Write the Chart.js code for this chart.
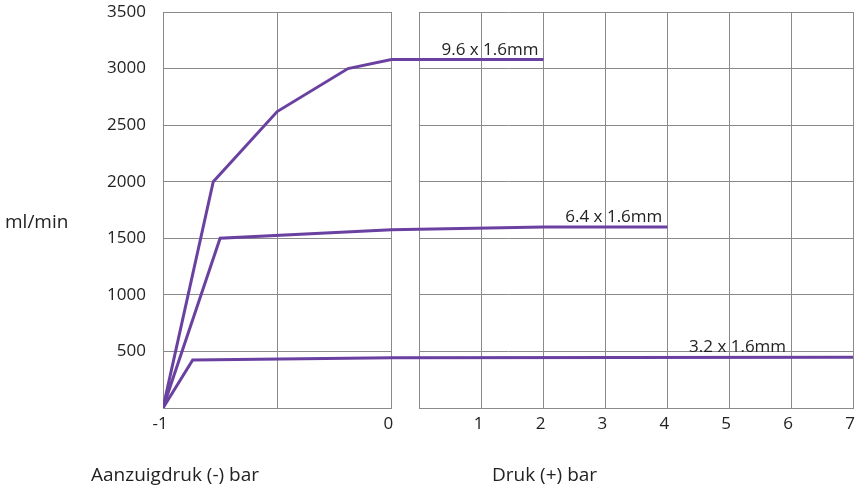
<!DOCTYPE html>
<html>
<head>
<meta charset="utf-8">
<title>Debiet per slangmaat</title>
<style>
  html, body { margin: 0; padding: 0; background: #fff; }
  #wrap { position: relative; width: 860px; height: 486px; }
</style>
</head>
<body>
<div id="wrap"><canvas id="flowChart" width="860" height="486"></canvas></div>
<script src="https://cdn.jsdelivr.net/npm/chart.js@4.4.1/dist/chart.umd.min.js"></script>
<script>
// Data (gelezen uit de grafiek)
const seriesNames = ['9.6 x 1.6mm', '6.4 x 1.6mm', '3.2 x 1.6mm'];

const pressure96 = [-1, -0.78, -0.5, -0.19, 0, 2];
const flow96 = [0, 2000, 2620, 3000, 3080, 3080];

const pressure64 = [-1, -0.75, 0, 2, 4];
const flow64 = [0, 1500, 1575, 1600, 1600];

const pressure32 = [-1, -0.87, 0, 7];
const flow32 = [0, 425, 445, 448];

// waar het label van elke lijn eindigt (bar)
const labelAt = [2, 4, 6];

const xGridValues = [-1, -0.5, 0, 0, 1, 2, 3, 4, 5, 6, 7];
const xLabelled = [-1, 0, 1, 2, 3, 4, 5, 6, 7];
const yTickValues = [0, 500, 1000, 1500, 2000, 2500, 3000, 3500];

const axisTitleY = 'ml/min';
const axisTitleSuction = 'Aanzuigdruk (-) bar';
const axisTitlePressure = 'Druk (+) bar';

// Opmaak
const purple = '#6a41a1';
const gridColor = '#8a8a8a';
const textColor = '#222';
const fontFamily = '"Open Sans", "Noto Sans", sans-serif';

// Gebroken x-as: links -1..0 (vacuum), rechts 0..7 (druk), met een smalle strook ertussen
const LEFT_PART = 0.331;
const GAP_PART = 0.041;

class BrokenScale extends Chart.LinearScale {
    buildTicks() {
        let seenZero = false;
        return xGridValues.map(function(v) {
            const t = { value: v, gapEnd: false };
            if (v === 0) {
                if (seenZero) t.gapEnd = true;
                seenZero = true;
            }
            t.showLabel = !t.gapEnd && xLabelled.indexOf(v) !== -1;
            return t;
        });
    }
    gapEndPixel() {
        return this.left + this.width * (LEFT_PART + GAP_PART);
    }
    getPixelForValue(value) {
        const w = this.width;
        if (value <= 0) {
            return this.left + (value - this.min) / (0 - this.min) * w * LEFT_PART;
        }
        return this.gapEndPixel() + value / this.max * w * (1 - LEFT_PART - GAP_PART);
    }
    getPixelForTick(index) {
        const t = this.ticks[index];
        if (t && t.gapEnd) return this.gapEndPixel();
        return this.getPixelForValue(t ? t.value : 0);
    }
    getValueForPixel(pixel) {
        const w = this.width;
        const leftEnd = this.left + w * LEFT_PART;
        if (pixel <= leftEnd) {
            return this.min + (pixel - this.left) / (w * LEFT_PART) * (0 - this.min);
        }
        const start = this.gapEndPixel();
        return Math.max(0, (pixel - start) / (w * (1 - LEFT_PART - GAP_PART)) * this.max);
    }
}
BrokenScale.id = 'broken';
BrokenScale.defaults = {};
Chart.register(BrokenScale);

function toPoints(xs, ys) {
    return xs.map(function(x, i) { return { x: x, y: ys[i] }; });
}

function alignPx(p) {
    return Math.round(p - 0.5);
}

// geen extra ruimte voor de buitenste labels, de layout-padding bepaalt alles
function noScalePadding(scale) {
    scale.paddingTop = 0;
    scale.paddingBottom = 0;
    scale.paddingLeft = 0;
    scale.paddingRight = 0;
}

// wit vlak in de onderbreking van de x-as
const gapPlugin = {
    id: 'axisGap',
    beforeDatasetsDraw(chart) {
        const xs = chart.scales.x;
        const area = chart.chartArea;
        const ctx = chart.ctx;
        const from = alignPx(xs.getPixelForValue(0)) + 1;
        const to = alignPx(xs.gapEndPixel());
        ctx.save();
        ctx.fillStyle = '#fff';
        ctx.fillRect(from, area.top - 2, to - from, area.bottom - area.top + 4);
        ctx.restore();
    }
};

// lijnlabels en astitels
const textPlugin = {
    id: 'chartTexts',
    afterDraw(chart) {
        const ctx = chart.ctx;
        const xs = chart.scales.x;
        const ys = chart.scales.y;
        ctx.save();
        ctx.fillStyle = textColor;
        ctx.font = '17px ' + fontFamily;
        ctx.textAlign = 'right';
        ctx.textBaseline = 'alphabetic';
        chart.data.datasets.forEach(function(ds, i) {
            const last = ds.data[ds.data.length - 1];
            ctx.fillText(seriesNames[i], xs.getPixelForValue(labelAt[i]) - 5, ys.getPixelForValue(last.y) - 5);
        });

        ctx.font = '19px ' + fontFamily;
        ctx.textAlign = 'left';
        ctx.fillText(axisTitleY, 5, 228);
        ctx.fillText(axisTitleSuction, 91, 481);
        ctx.fillText(axisTitlePressure, 492, 481);
        ctx.restore();
    }
};

Chart.defaults.font.family = fontFamily;
Chart.defaults.font.size = 17;
Chart.defaults.color = textColor;

const ctx = document.getElementById('flowChart').getContext('2d');
const flowChart = new Chart(ctx, {
    type: 'line',
    data: {
        datasets: [
            { label: seriesNames[0], data: toPoints(pressure96, flow96) },
            { label: seriesNames[1], data: toPoints(pressure64, flow64) },
            { label: seriesNames[2], data: toPoints(pressure32, flow32) }
        ]
    },
    options: {
        responsive: false,
        animation: false,
        layout: { padding: { left: 0, right: 7, top: 12, bottom: 0 } },
        elements: {
            line: { borderColor: purple, borderWidth: 3, tension: 0, fill: false },
            point: { radius: 0, hoverRadius: 0 }
        },
        plugins: {
            legend: { display: false },
            tooltip: { enabled: false }
        },
        scales: {
            x: {
                type: 'broken',
                min: -1,
                max: 7,
                afterFit: function(scale) {
                    noScalePadding(scale);
                    scale.height = 78;
                },
                grid: { color: gridColor, drawTicks: false },
                border: { color: gridColor },
                ticks: {
                    autoSkip: false,
                    maxRotation: 0,
                    padding: 6,
                    labelOffset: -3,
                    callback: function(value, index, ticks) {
                        return ticks[index].showLabel ? String(value) : '';
                    }
                }
            },
            y: {
                min: 0,
                max: 3500,
                afterFit: function(scale) {
                    noScalePadding(scale);
                    scale.width = 163;
                },
                afterBuildTicks: function(scale) {
                    scale.ticks = yTickValues.map(function(v) { return { value: v }; });
                },
                grid: { color: gridColor, drawTicks: false },
                border: { color: gridColor },
                ticks: {
                    padding: 17,
                    callback: function(value) { return value === 0 ? '' : value; }
                }
            }
        }
    },
    plugins: [gapPlugin, textPlugin]
});
</script>
</body>
</html>
